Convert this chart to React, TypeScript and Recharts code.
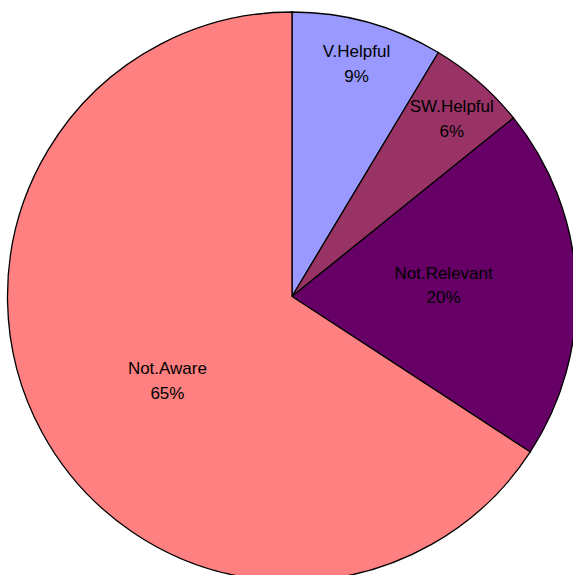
import { PieChart, Pie, Cell } from 'recharts';

const categories = ['V.Helpful', 'SW.Helpful', 'Not.Relevant', 'Not.Aware'];
const values = [8.6, 5.6, 20.0, 65.8];
const percentLabels = ['9%', '6%', '20%', '65%'];
const colors = ['#9999FF', '#993366', '#660066', '#FF8080'];

const data = categories.map((name, i) => ({
  name,
  value: values[i],
  pct: percentLabels[i],
}));

// label placement tweaks (radius fraction, dx, dy) to match the original layout
const labelRadius = [0.85, 0.85, 0.53, 0.53];
const labelNudge = [
  [0, 0],
  [1, 4],
  [1, -4],
  [8, 12],
];

const RADIAN = Math.PI / 180;

const renderLabel = (props: any) => {
  const { cx, cy, midAngle, outerRadius, index } = props;
  const d = data[index];
  const r = outerRadius * labelRadius[index];
  const x = cx + r * Math.cos(-midAngle * RADIAN) + labelNudge[index][0];
  const y = cy + r * Math.sin(-midAngle * RADIAN) + labelNudge[index][1];
  return (
    <text
      x={x}
      y={y}
      textAnchor="middle"
      fill="#000"
      fontSize={17}
      fontFamily="'Liberation Sans', Arial, sans-serif"
    >
      <tspan x={x} dy={-6}>{d.name}</tspan>
      <tspan x={x} dy={24.5}>{d.pct}</tspan>
    </text>
  );
};

export default function App() {
  return (
    <div style={{ position: 'absolute', left: 0, top: 0, background: '#fff' }}>
      <PieChart width={573} height={575} margin={{ top: 0, right: 0, bottom: 0, left: 0 }}>
        <Pie
          data={data}
          dataKey="value"
          cx={292}
          cy={296.5}
          outerRadius={284.5}
          startAngle={90}
          endAngle={-270}
          stroke="#000"
          strokeWidth={1.3}
          label={renderLabel}
          labelLine={false}
          isAnimationActive={false}
        >
          {data.map((d, i) => (
            <Cell key={d.name} fill={colors[i]} />
          ))}
        </Pie>
      </PieChart>
    </div>
  );
}
